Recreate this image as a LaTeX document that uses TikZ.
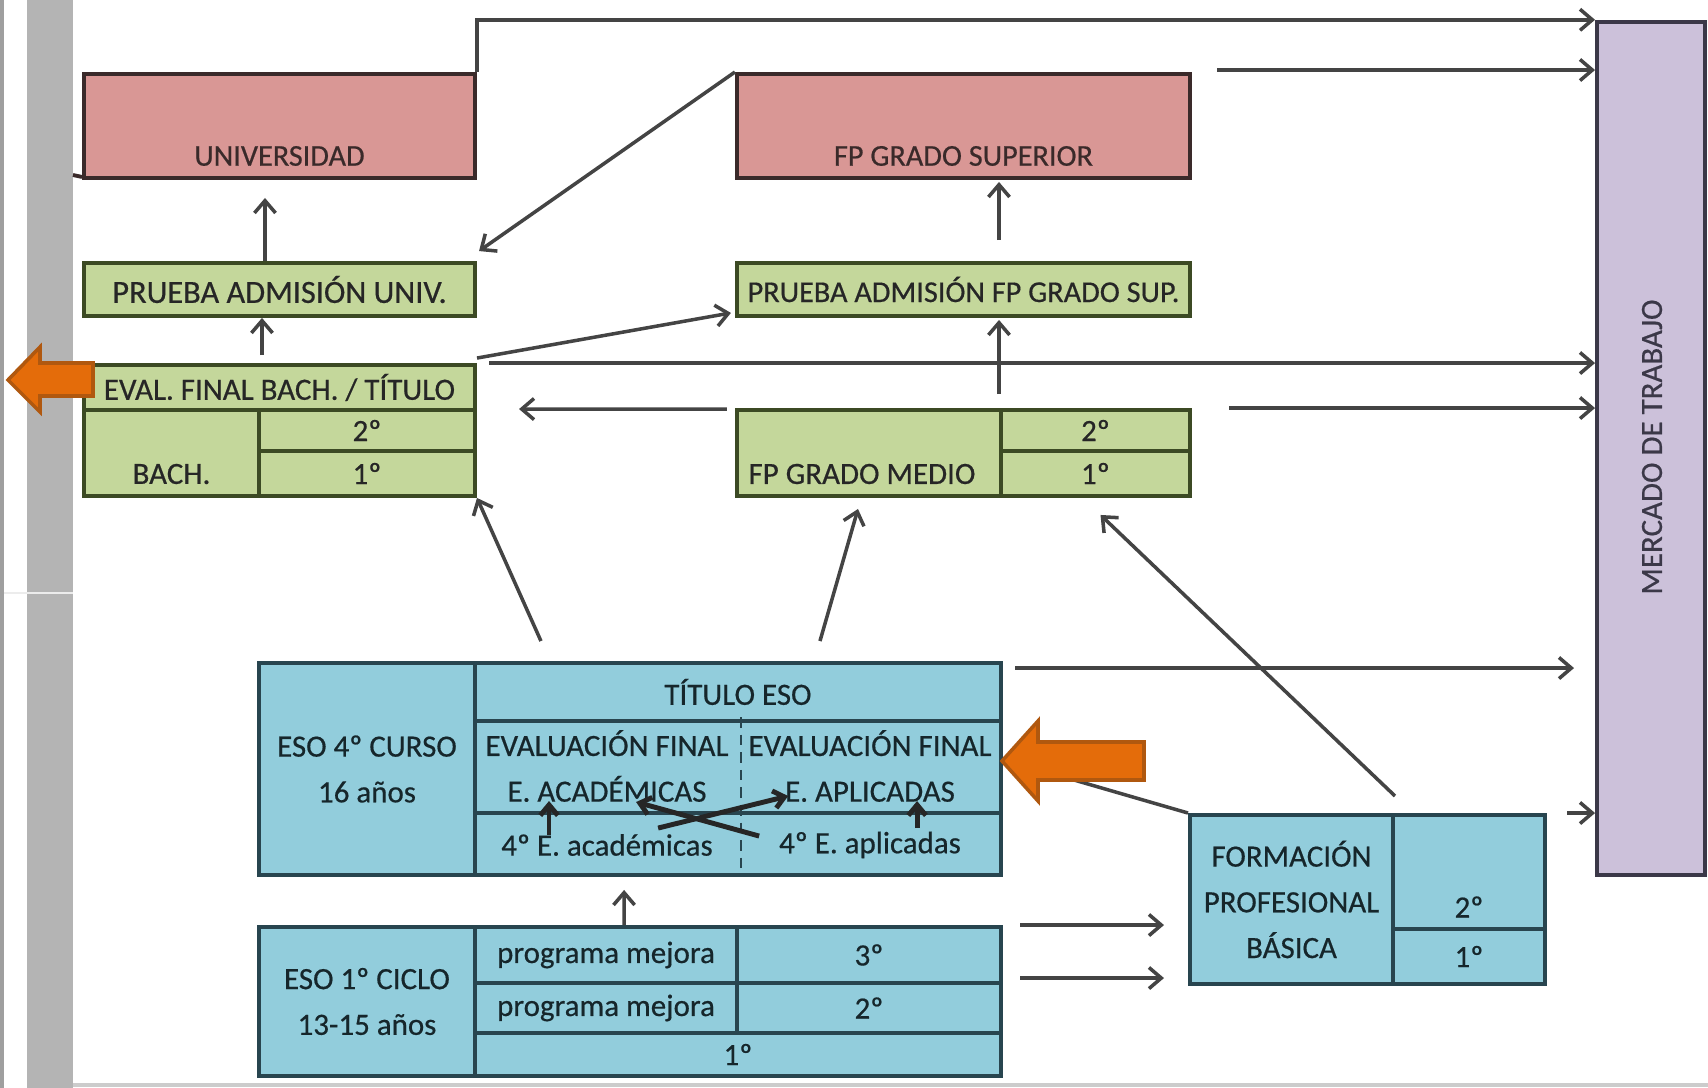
\documentclass[tikz,border=0pt]{standalone}
\usepackage{fontspec}
\setmainfont{Carlito}[FakeBold=0.5]
\usetikzlibrary{arrows.meta,positioning}

\definecolor{pinkfill}{HTML}{D99795}
\definecolor{pinkline}{HTML}{3A2A2A}
\definecolor{greenfill}{HTML}{C4D79B}
\definecolor{greenline}{HTML}{3C4A24}
\definecolor{bluefill}{HTML}{92CDDC}
\definecolor{blueline}{HTML}{28454F}
\definecolor{lilacfill}{HTML}{CCC1DA}
\definecolor{lilacline}{HTML}{3B3848}
\definecolor{orangefill}{HTML}{E46C0A}
\definecolor{orangeline}{HTML}{B0580F}
\definecolor{linkgray}{HTML}{444444}
\definecolor{bargray}{HTML}{B4B4B4}

\begin{document}
\begin{tikzpicture}[
    x=0.01cm, y=-0.01cm,
    cell/.style={rectangle, draw, line width=1.1pt, inner sep=0pt, align=center, font=\fontsize{8.8}{13}\selectfont},
    pinkcell/.style={cell, fill=pinkfill, draw=pinkline},
    greencell/.style={cell, fill=greenfill, draw=greenline, text=black!85},
    bluecell/.style={cell, fill=bluefill, draw=blueline, text=blueline!55!black},
    lilaccell/.style={cell, fill=lilacfill, draw=lilacline},
    tag/.style={inner sep=0pt, font=\fontsize{8.8}{13}\selectfont, text=black!85},
    pinktag/.style={tag, font=\fontsize{8.6}{10}\selectfont, text=pinkline},
    arrow/.style={-{Straight Barb[length=3.5pt, width=6pt]}, line width=1pt, draw=linkgray},
    link/.style={line width=1pt, draw=linkgray},
    innerarrow/.style={-{Straight Barb[length=3pt, width=5pt]}, line width=1.4pt, draw=black!85},
    bigarrow/.style={fill=orangefill, draw=orangeline, line width=1pt}
]
\useasboundingbox (0,0) rectangle (1708,1088);

% Background strip
\fill[white] (0,0) rectangle (1708,1088);
\fill[bargray] (27,0) rectangle (73,1088);
\draw[gray!75, line width=1pt] (2,0) -- (2,1088);
\draw[white!85!gray, line width=0.5pt] (4,593) -- (73,593);
\draw[gray!40, line width=1pt] (73,1085) -- (1708,1085);
\coordinate (baredge) at (73,175);

% Higher education
\node[pinkcell, minimum width=3.91cm, minimum height=1.04cm] (univ) at (279.5,126) {};
\node[pinktag] (univtxt) at (279.5,156) {UNIVERSIDAD};
\node[pinkcell, minimum width=4.53cm, minimum height=1.04cm] (fpsup) at (963.5,126) {};
\node[pinktag] (fpsuptxt) at (963.5,156) {FP GRADO SUPERIOR};

% Admission tests
\node[greencell, minimum width=3.91cm, minimum height=0.53cm, font=\fontsize{9.2}{11}\selectfont] (pu) at (279.5,289.5) {PRUEBA ADMISIÓN UNIV.};
\node[greencell, minimum width=4.53cm, minimum height=0.53cm, font=\fontsize{8.6}{11}\selectfont] (pfp) at (963.5,289.5) {PRUEBA ADMISIÓN FP GRADO SUP.};

% Bachillerato
\node[greencell, minimum width=3.91cm, minimum height=0.45cm] (evb) at (279.5,387.5) {EVAL. FINAL BACH. / TÍTULO};
\node[greencell, minimum width=1.75cm, minimum height=0.86cm] (bach) at (171.5,453) {};
\node[tag] (bachtxt) at (171.5,474) {BACH.};
\node[greencell, minimum width=2.16cm, minimum height=0.41cm] (bach2) at (367,430.5) {2º};
\node[greencell, minimum width=2.16cm, minimum height=0.45cm] (bach1) at (367,473.5) {1º};

% FP grado medio
\node[greencell, minimum width=2.64cm, minimum height=0.86cm] (fpm) at (869,453) {};
\node[tag] (fpmtxt) at (862,474) {FP GRADO MEDIO};
\node[greencell, minimum width=1.89cm, minimum height=0.41cm] (fpm2) at (1095.5,430.5) {2º};
\node[greencell, minimum width=1.89cm, minimum height=0.45cm] (fpm1) at (1095.5,473.5) {1º};

% ESO 4 curso
\node[bluecell, minimum width=2.16cm, minimum height=2.12cm] (eso4) at (367,769) {ESO 4º CURSO\\16 años};
\node[bluecell, minimum width=5.26cm, minimum height=0.58cm] (titulo) at (738,692) {TÍTULO ESO};
\node[bluecell, draw=none, minimum width=2.64cm, minimum height=0.94cm] (evalac) at (607,766) {EVALUACIÓN FINAL\\E. ACADÉMICAS};
\node[bluecell, draw=none, minimum width=2.62cm, minimum height=0.94cm] (evalap) at (870,766) {EVALUACIÓN FINAL\\E. APLICADAS};
\node[bluecell, draw=none, minimum width=2.64cm, minimum height=0.60cm] (acad4) at (607,845) {4º E. académicas};
\node[bluecell, draw=none, minimum width=2.62cm, minimum height=0.60cm] (aplic4) at (870,845) {4º E. aplicadas};
\draw[line width=1.1pt, draw=blueline] (475,721) rectangle (1001,875);
\draw[line width=1.1pt, draw=blueline] (acad4.north west) -- (aplic4.north east);
\draw[densely dashed, line width=0.6pt, draw=blueline] (evalac.north east) -- (acad4.south east);

% ESO 1 ciclo
\node[bluecell, minimum width=2.16cm, minimum height=1.49cm] (eso1) at (367,1001.5) {ESO 1º CICLO\\13-15 años};
\node[bluecell, minimum width=2.62cm, minimum height=0.56cm] (mej3) at (606,955) {programa mejora};
\node[bluecell, minimum width=2.64cm, minimum height=0.56cm] (c3) at (869,955) {3º};
\node[bluecell, minimum width=2.62cm, minimum height=0.50cm] (mej2) at (606,1008) {programa mejora};
\node[bluecell, minimum width=2.64cm, minimum height=0.50cm] (c2) at (869,1008) {2º};
\node[bluecell, minimum width=5.26cm, minimum height=0.43cm] (c1) at (738,1054.5) {1º};

% Formacion profesional basica
\node[bluecell, minimum width=2.03cm, minimum height=1.69cm] (fpb) at (1291.5,899.5) {FORMACIÓN\\PROFESIONAL\\BÁSICA};
\node[bluecell, minimum width=1.52cm, minimum height=1.14cm] (fpb2) at (1469,872) {};
\node[tag, text=blueline!55!black] (fpb2txt) at (1469,907) {2º};
\node[bluecell, minimum width=1.52cm, minimum height=0.55cm] (fpb1) at (1469,956.5) {1º};

% Labour market
\node[lilaccell, minimum width=1.08cm, minimum height=8.53cm] (merc) at (1651,448.5) {};
\node[tag, rotate=90, text=lilacline] (merctxt) at (1652,447) {MERCADO DE TRABAJO};

% Exits to the labour market
\draw[arrow] (univ.north east) |- (merc.north west);
\draw[link, line width=1.1pt, draw=pinkline] ([yshift=0.03cm]univ.south west) -- (baredge);
\draw[arrow] ([xshift=0.25cm,yshift=0.02cm]fpsup.north east) -- ([yshift=0.02cm]fpsup.north east -| merc.west);
\draw[arrow] ([xshift=0.12cm]evb.north east) -- (evb.north east -| merc.west);
\draw[arrow] ([xshift=0.37cm]fpm2.north east) -- (fpm2.north east -| merc.west);
\draw[arrow] ([xshift=0.12cm,yshift=-0.07cm]titulo.north east) coordinate (tituloout) -- ([xshift=-0.21cm]tituloout -| merc.west);
\draw[arrow] ([xshift=0.2cm]fpb2.north east) -- (fpb2.north east -| merc.west);

% Progression between stages
\draw[arrow] ([xshift=-0.145cm]pu.north) -- ([xshift=-0.145cm,yshift=-0.18cm]univ.south);
\draw[arrow] ([xshift=-0.175cm,yshift=0.08cm]evb.north) -- ([xshift=-0.175cm]pu.south);
\draw[arrow] ([yshift=0.05cm]evb.north east) -- ([xshift=-0.04cm,yshift=0.05cm]pfp.south west);
\draw[arrow] (fpsup.north west) -- ([xshift=0.02cm,yshift=0.1cm]pu.north east);
\draw[arrow] ([yshift=0.21cm]pfp.north -| fpm2.west) -- ([yshift=-0.02cm]fpsup.south -| fpm2.west);
\draw[arrow] ([yshift=0.14cm]fpm2.north west) -- ([yshift=-0.02cm]pfp.south -| fpm2.west);
\draw[arrow] ([xshift=-0.08cm,yshift=-0.01cm]fpm.north west) -- ([xshift=0.42cm,yshift=-0.01cm]bach2.north east);
\draw[arrow] ([xshift=0.68cm,yshift=0.2cm]titulo.north west) -- (bach1.south east);
\draw[arrow] ([xshift=-1.83cm,yshift=0.2cm]titulo.north east) -- ([xshift=-0.11cm,yshift=-0.11cm]fpm.south);
\draw[arrow] ([yshift=0.17cm]fpb.north east) -- ([xshift=0.05cm,yshift=-0.17cm]fpm1.south);
\draw[link] (fpb.north west) -- ([xshift=0.4cm,yshift=-0.05cm]evalap.east);
\draw[arrow] ([xshift=1.51cm]mej3.north west) -- ([xshift=1.51cm,yshift=-0.13cm]acad4.south west);
\draw[arrow] ([xshift=0.17cm]c3.north east) -- ([xshift=-0.24cm]c3.north east -| fpb.west);
\draw[arrow] ([xshift=0.17cm,yshift=0.03cm]c2.north east) -- ([xshift=-0.24cm,yshift=0.03cm]c2.north east -| fpb.west);

% Routes inside ESO 4
\draw[innerarrow] ([xshift=0.76cm,yshift=-0.22cm]acad4.north west) -- ([xshift=0.76cm,yshift=0.12cm]acad4.north west);
\draw[innerarrow] ([xshift=1.8cm,yshift=-0.15cm]aplic4.north west) -- ([xshift=1.8cm,yshift=0.12cm]aplic4.north west);
\draw[innerarrow] ([xshift=2.86cm,yshift=-0.23cm]acad4.north west) -- ([xshift=1.63cm,yshift=0.11cm]acad4.north west);
\draw[innerarrow] ([xshift=1.85cm,yshift=-0.15cm]acad4.north west) -- ([xshift=3.15cm,yshift=0.17cm]acad4.north west);

% Orange pointers
\filldraw[bigarrow] (8,380) -- (40,347) -- (40,363) -- (93,363) -- (93,396) -- (40,396) -- (40,412) -- cycle;
\filldraw[bigarrow] (1002,761) -- (1038,721) -- (1038,742) -- (1144,742) -- (1144,780) -- (1038,780) -- (1038,801) -- cycle;

\end{tikzpicture}
\end{document}
